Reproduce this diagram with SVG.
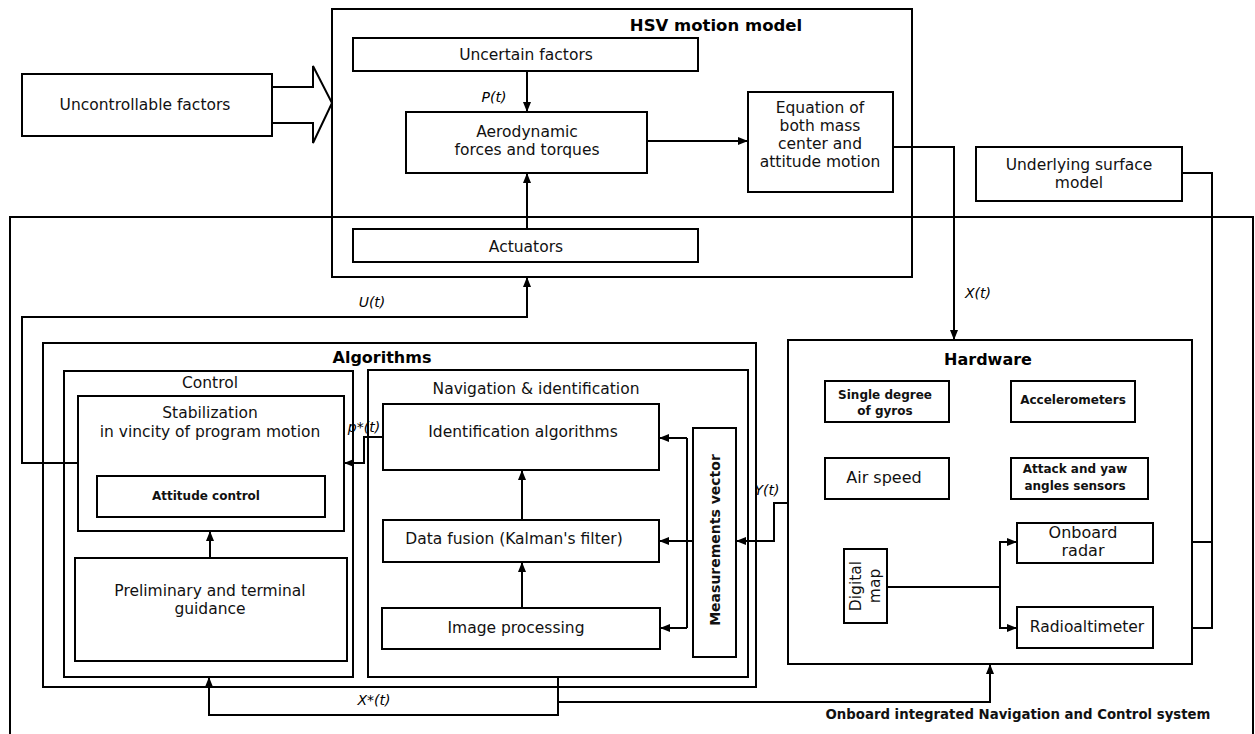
<svg xmlns="http://www.w3.org/2000/svg" width="1255" height="734" viewBox="0 0 1255 734">
<style>
rect.b{fill:#fff;stroke:#000;stroke-width:2}
rect.f{fill:none;stroke:#000;stroke-width:2}
.t{font-family:"DejaVu Sans",Verdana,sans-serif;font-size:15.5px;text-anchor:middle;dominant-baseline:central;fill:#111}
.bd{font-weight:bold}
.s12{font-size:12px}
.ttl{font-family:"DejaVu Sans",Verdana,sans-serif;font-size:16px;font-weight:bold;text-anchor:middle;dominant-baseline:central;fill:#000}
.lab{font-family:"DejaVu Sans",Verdana,sans-serif;font-size:14px;font-style:italic;text-anchor:middle;dominant-baseline:central;fill:#000}
.c path{fill:none;stroke:#000;stroke-width:2}
.c path.a{marker-end:url(#ah)}
</style>
<defs>
<marker id="ah" markerUnits="userSpaceOnUse" markerWidth="10" markerHeight="8" refX="10" refY="4" orient="auto">
<path d="M0,0 L10,4 L0,8 z" fill="#000"/>
</marker>
</defs>
<rect width="1255" height="734" fill="#fff"/>

<g id="onboard-system">
<rect class="f" x="10" y="217" width="1243" height="525"/>
<text class="t bd" x="1018" y="714" style="font-size:13.3px">Onboard integrated Navigation and Control system</text>
</g>

<g id="hsv-model">
<rect class="f" x="332" y="9" width="580" height="268"/>
<text class="ttl" x="716" y="25" style="font-size:16.5px">HSV motion model</text>
</g>

<g id="uncontrollable">
<rect class="b" x="22" y="74" width="250" height="62"/>
<text class="t" x="145" y="105">Uncontrollable factors</text>
</g>

<g id="big-arrow">
<polygon points="272,87 313,87 313,66 332,103 313,143 313,123 272,123" fill="#fff" stroke="#000" stroke-width="2"/>
</g>

<g id="uncertain">
<rect class="b" x="353" y="38" width="345" height="33"/>
<text class="t" x="526" y="55">Uncertain factors</text>
</g>

<g id="aero">
<rect class="b" x="406" y="112" width="241" height="61"/>
<text class="t" x="527" y="132">Aerodynamic</text>
<text class="t" x="527" y="150">forces and torques</text>
</g>

<g id="equation">
<rect class="b" x="748" y="92" width="145" height="100"/>
<text class="t" x="820" y="108">Equation of</text>
<text class="t" x="820" y="126">both mass</text>
<text class="t" x="820" y="144">center and</text>
<text class="t" x="820" y="162">attitude motion</text>
</g>

<g id="actuators">
<rect class="b" x="353" y="229" width="345" height="33"/>
<text class="t" x="526" y="247">Actuators</text>
</g>

<g id="underlying">
<rect class="b" x="976" y="147" width="206" height="54"/>
<text class="t" x="1079" y="165">Underlying surface</text>
<text class="t" x="1079" y="183">model</text>
</g>

<g id="algorithms">
<rect class="f" x="43" y="343" width="713" height="344"/>
<text class="ttl" x="382" y="357">Algorithms</text>
</g>

<g id="control">
<rect class="f" x="64" y="371" width="289" height="306"/>
<text class="t" x="210" y="383">Control</text>
</g>

<g id="stabilization">
<rect class="f" x="78" y="396" width="266" height="135"/>
<text class="t" x="210" y="413">Stabilization</text>
<text class="t" x="210" y="432">in vincity of program motion</text>
</g>

<g id="attitude">
<rect class="b" x="97" y="476" width="228" height="41"/>
<text class="t bd s12" x="206" y="496">Attitude control</text>
</g>

<g id="preliminary">
<rect class="b" x="75" y="558" width="272" height="103"/>
<text class="t" x="210" y="591">Preliminary and terminal</text>
<text class="t" x="210" y="609">guidance</text>
</g>

<g id="navigation">
<rect class="f" x="368" y="370" width="380" height="307"/>
<text class="t" x="536" y="389">Navigation &amp; identification</text>
</g>

<g id="identification">
<rect class="b" x="383" y="404" width="276" height="66"/>
<text class="t" x="523" y="432">Identification algorithms</text>
</g>

<g id="data-fusion">
<rect class="b" x="383" y="520" width="276" height="42"/>
<text class="t" x="514" y="539">Data fusion (Kalman's filter)</text>
</g>

<g id="image-processing">
<rect class="b" x="382" y="608" width="278" height="41"/>
<text class="t" x="516" y="628">Image processing</text>
</g>

<g id="measurements">
<rect class="b" x="693" y="428" width="43" height="229"/>
<text class="t bd" x="0" y="0" style="font-size:14px" transform="translate(715,540) rotate(-90)">Measurements vector</text>
</g>

<g id="hardware">
<rect class="f" x="788" y="340" width="404" height="324"/>
<text class="ttl" x="988" y="359">Hardware</text>
</g>

<g id="gyros">
<rect class="b" x="825" y="381" width="124" height="41"/>
<text class="t bd s12" x="885" y="395">Single degree</text>
<text class="t bd s12" x="885" y="411">of gyros</text>
</g>

<g id="accelerometers">
<rect class="b" x="1011" y="381" width="124" height="41"/>
<text class="t bd s12" x="1073" y="400">Accelerometers</text>
</g>

<g id="air-speed">
<rect class="b" x="825" y="458" width="124" height="41"/>
<text class="t" x="884" y="477" style="font-size:16px">Air speed</text>
</g>

<g id="attack-yaw">
<rect class="b" x="1011" y="458" width="137" height="41"/>
<text class="t bd s12" x="1075" y="469">Attack and yaw</text>
<text class="t bd s12" x="1075" y="486">angles sensors</text>
</g>

<g id="onboard-radar">
<rect class="b" x="1017" y="523" width="136" height="40"/>
<text class="t" x="1083" y="532" style="font-size:16px">Onboard</text>
<text class="t" x="1083" y="550" style="font-size:16px">radar</text>
</g>

<g id="radioaltimeter">
<rect class="b" x="1017" y="607" width="136" height="41"/>
<text class="t" x="1087" y="627" style="font-size:15.5px">Radioaltimeter</text>
</g>

<g id="digital-map">
<rect class="b" x="844" y="549" width="43" height="74"/>
<text class="t" x="0" y="0" style="font-size:15.5px" transform="translate(856,586) rotate(-90)">Digital</text>
<text class="t" x="0" y="0" style="font-size:15.5px" transform="translate(875,586) rotate(-90)">map</text>
</g>

<g id="connectors" class="c">
<path class="a" d="M527,71 V112"/>
<path class="a" d="M527,229 V173"/>
<path class="a" d="M647,141 H748"/>
<path class="a" d="M893,147 H954 V340"/>
<path class="a" d="M78,463 H22 V317 H527 V277"/>
<path class="a" d="M383,437 H364 V463 H344"/>
<path class="a" d="M693,541 H659"/>
<path d="M687,438 V628"/>
<path class="a" d="M687,438 H659"/>
<path class="a" d="M687,628 H660"/>
<path class="a" d="M788,503 H774 V541 H736"/>
<path d="M1182,173 H1212 V628 H1192"/>
<path d="M1212,542 H1192"/>
<path d="M887,587 H1000"/>
<path class="a" d="M1000,587 V542 H1017"/>
<path class="a" d="M1000,587 V628 H1017"/>
<path class="a" d="M558,677 V715 H209 V677"/>
<path class="a" d="M558,702 H990 V664"/>
<path class="a" d="M522,608 V562"/>
<path class="a" d="M522,520 V470"/>
<path class="a" d="M210,558 V531"/>
<text class="lab" x="494" y="97">P(t)</text>
<text class="lab" x="372" y="302">U(t)</text>
<text class="lab" x="978" y="293">X(t)</text>
<text class="lab" x="767" y="490">Y(t)</text>
<text class="lab" x="364" y="427">p*(t)</text>
<text class="lab" x="374" y="700">X*(t)</text>
</g>
</svg>
